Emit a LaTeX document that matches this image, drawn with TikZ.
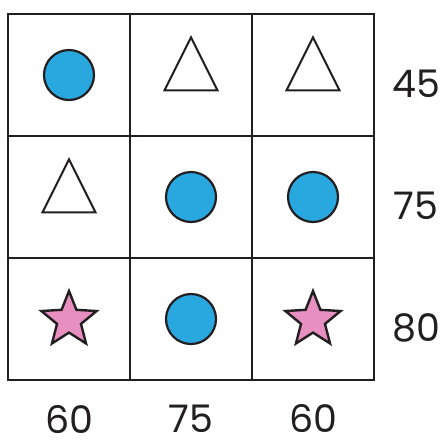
\documentclass[tikz,border=0pt]{standalone}
\usepackage{fontspec}
\setmainfont{Poppins}
\usetikzlibrary{shapes.geometric}

\definecolor{dotblue}{HTML}{29A8E0}
\definecolor{starpink}{HTML}{E68FC0}
\definecolor{ink}{HTML}{231F20}

\tikzset{
  dot/.style={circle,draw=ink,line width=2.2pt,fill=dotblue,minimum size=50pt,inner sep=0pt},
  tri/.style={isosceles triangle,isosceles triangle stretches,shape border rotate=90,
    draw=ink,line width=2pt,fill=white,minimum width=53pt,minimum height=53pt,inner sep=0pt},
  pinkstar/.style={star,star points=5,star point ratio=2.3,draw=ink,line width=2.4pt,
    fill=starpink,minimum size=58pt,inner sep=0pt},
  num/.style={font=\fontsize{38}{40}\selectfont,text=ink,inner sep=0pt}
}

\begin{document}
\begin{tikzpicture}[x=1pt,y=-1pt]
\useasboundingbox (0,0) rectangle (446,440);

% grid
\draw[line width=2.5pt,ink] (8,14) rectangle (374,380);
\foreach \i in {1,2}{
  \draw[line width=2.5pt,ink] (8+122*\i,14) -- (8+122*\i,380);
  \draw[line width=2.5pt,ink] (8,14+122*\i) -- (374,14+122*\i);
}

% cells
\node[dot] (a1) at (69,75) {};
\node[tri] (a2) at (191,74) {};
\node[tri] (a3) at (313,74) {};
\node[tri] (b1) at (69,196) {};
\node[dot] (b2) at (191,197) {};
\node[dot] (b3) at (313,197) {};
\node[pinkstar] (c1) at (69,320) {};
\node[dot] (c2) at (191,319) {};
\node[pinkstar] (c3) at (313,320) {};

% row sums
\node[num] (r1) at (416,84) {45};
\node[num] (r2) at (416,206) {75};
\node[num] (r3) at (416,328) {80};

% column sums
\node[num,anchor=base] (s1) at (69,433) {60};
\node[num,anchor=base] (s2) at (191,432) {75};
\node[num,anchor=base] (s3) at (313,432) {60};
\end{tikzpicture}
\end{document}
